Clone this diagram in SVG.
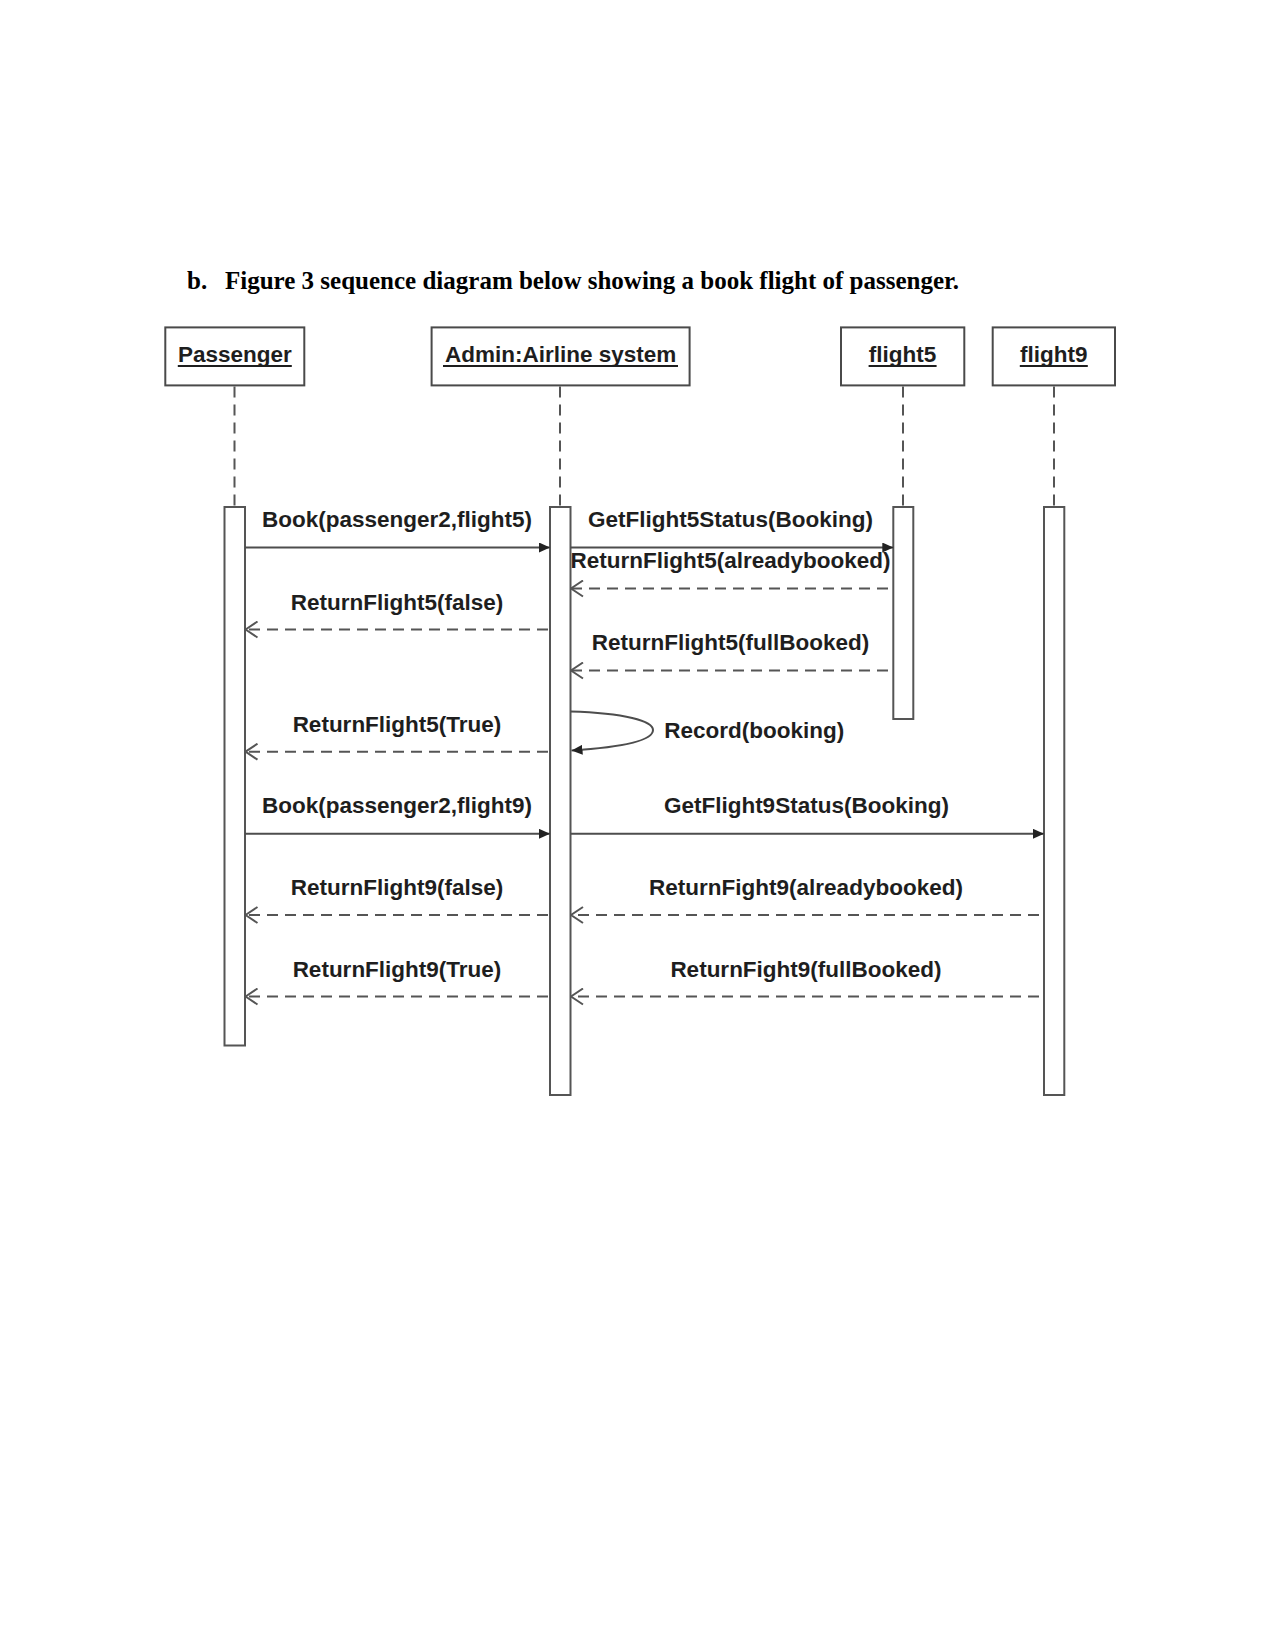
<svg xmlns="http://www.w3.org/2000/svg" width="1275" height="1651" viewBox="0 0 1275 1651">
<style>
.title{font-family:"Liberation Serif","Times New Roman",serif;font-weight:bold;font-size:25px;fill:#000}
.lbl{font-family:"Liberation Sans",Arial,sans-serif;font-weight:bold;font-size:22.5px;fill:#1e1e1e}
.node rect.head{fill:#fff;stroke:#4a4a4a;stroke-width:2}
.node rect.act{fill:#fff;stroke:#555;stroke-width:2}
.life{stroke:#555;stroke-width:2;stroke-dasharray:11 7;fill:none}
.ul{stroke:#1e1e1e;stroke-width:2}
.msg{stroke:#4d4d4d;stroke-width:2;fill:none}
.ret{stroke:#555;stroke-width:2;fill:none;stroke-dasharray:11 7}
</style>
<defs>
<marker id="filled" markerUnits="userSpaceOnUse" markerWidth="12" markerHeight="10" refX="11" refY="5" orient="auto">
<path d="M0,0 L11,5 L0,10 Z" fill="#222"/>
</marker>
<marker id="open" markerUnits="userSpaceOnUse" markerWidth="14" markerHeight="18" refX="13" refY="9" orient="auto">
<path d="M1,1 L13,9 L1,17" fill="none" stroke="#555" stroke-width="2"/>
</marker>
</defs>
<rect width="1275" height="1651" fill="#fff"/>
<text class="title" x="187" y="288.5">b.</text>
<text class="title" x="225" y="288.5">Figure 3 sequence diagram below showing a book flight of passenger.</text>

<g id="passenger" class="node">
<rect class="head" x="165.3" y="327.4" width="139" height="58"/>
<text class="lbl" x="234.8" y="361.5" text-anchor="middle">Passenger</text>
<line class="ul" x1="177.8" y1="366" x2="291.8" y2="366"/>
<line class="life" x1="234.5" y1="386.4" x2="234.5" y2="507"/>
<rect class="act" x="224.5" y="507" width="20.5" height="538.5"/>
</g>
<g id="admin" class="node">
<rect class="head" x="431.6" y="327.4" width="258" height="58"/>
<text class="lbl" x="560.6" y="361.5" text-anchor="middle">Admin:Airline system</text>
<line class="ul" x1="443" y1="366" x2="678" y2="366"/>
<line class="life" x1="560" y1="386.4" x2="560" y2="507"/>
<rect class="act" x="550" y="507" width="20.5" height="588"/>
</g>
<g id="flight5" class="node">
<rect class="head" x="841" y="327.4" width="123.3" height="58"/>
<text class="lbl" x="902.6" y="361.5" text-anchor="middle">flight5</text>
<line class="ul" x1="868.6" y1="366" x2="936.6" y2="366"/>
<line class="life" x1="903" y1="386.4" x2="903" y2="507"/>
<rect class="act" x="893.3" y="507" width="20" height="212"/>
</g>
<g id="flight9" class="node">
<rect class="head" x="992.7" y="327.4" width="122.3" height="58"/>
<text class="lbl" x="1053.8" y="361.5" text-anchor="middle">flight9</text>
<line class="ul" x1="1019.8" y1="366" x2="1087.8" y2="366"/>
<line class="life" x1="1054" y1="386.4" x2="1054" y2="507"/>
<rect class="act" x="1044" y="507" width="20.3" height="588"/>
</g>

<g id="connectors">
<line class="msg" x1="245" y1="547.5" x2="550" y2="547.5" marker-end="url(#filled)"/>
<text class="lbl" x="397" y="526.7" text-anchor="middle">Book(passenger2,flight5)</text>

<line class="msg" x1="570.5" y1="547.5" x2="893.3" y2="547.5" marker-end="url(#filled)"/>
<text class="lbl" x="730.6" y="526.7" text-anchor="middle">GetFlight5Status(Booking)</text>

<line class="ret" x1="888" y1="588.5" x2="571" y2="588.5" marker-end="url(#open)"/>
<text class="lbl" x="730.6" y="567.5" text-anchor="middle">ReturnFlight5(alreadybooked)</text>

<line class="ret" x1="548" y1="629.5" x2="245.5" y2="629.5" marker-end="url(#open)"/>
<text class="lbl" x="397" y="609.6" text-anchor="middle">ReturnFlight5(false)</text>

<line class="ret" x1="888" y1="670.5" x2="571" y2="670.5" marker-end="url(#open)"/>
<text class="lbl" x="730.6" y="649.6" text-anchor="middle">ReturnFlight5(fullBooked)</text>

<path class="msg" d="M570.5,711.5 C625,713 653,721 653,730 C653,740 625,747 571.5,750.5" marker-end="url(#filled)"/>
<text class="lbl" x="664.3" y="738">Record(booking)</text>

<line class="ret" x1="548" y1="751.7" x2="245.5" y2="751.7" marker-end="url(#open)"/>
<text class="lbl" x="397" y="731.7" text-anchor="middle">ReturnFlight5(True)</text>

<line class="msg" x1="245" y1="833.8" x2="550" y2="833.8" marker-end="url(#filled)"/>
<text class="lbl" x="397" y="813" text-anchor="middle">Book(passenger2,flight9)</text>

<line class="msg" x1="570.5" y1="833.8" x2="1044" y2="833.8" marker-end="url(#filled)"/>
<text class="lbl" x="806.4" y="813" text-anchor="middle">GetFlight9Status(Booking)</text>

<line class="ret" x1="548" y1="915" x2="245.5" y2="915" marker-end="url(#open)"/>
<text class="lbl" x="397" y="894.9" text-anchor="middle">ReturnFlight9(false)</text>

<line class="ret" x1="1039" y1="915" x2="571" y2="915" marker-end="url(#open)"/>
<text class="lbl" x="806" y="894.9" text-anchor="middle">ReturnFight9(alreadybooked)</text>

<line class="ret" x1="548" y1="996.5" x2="245.5" y2="996.5" marker-end="url(#open)"/>
<text class="lbl" x="397" y="977" text-anchor="middle">ReturnFlight9(True)</text>

<line class="ret" x1="1039" y1="996.5" x2="571" y2="996.5" marker-end="url(#open)"/>
<text class="lbl" x="806" y="977" text-anchor="middle">ReturnFight9(fullBooked)</text>
</g>
</svg>
